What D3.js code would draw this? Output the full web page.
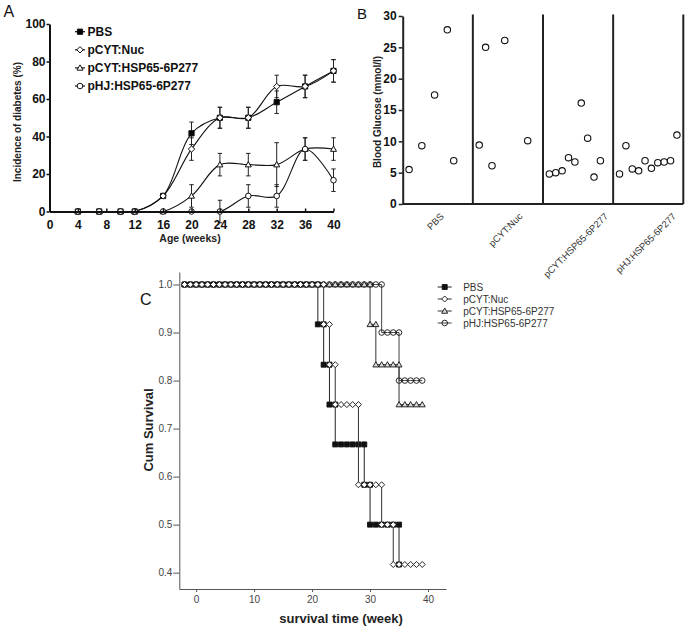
<!DOCTYPE html>
<html>
<head>
<meta charset="utf-8">
<script src="https://cdn.jsdelivr.net/npm/d3@7"></script>
<style>
  body { margin: 0; background: #fff; }
  svg { font-family: "Liberation Sans", Arial, sans-serif; }
</style>
</head>
<body>
<script>
// ---- Panel A: incidence of diabetes (%) ----
var ageWeeks = [4, 7, 10, 12, 16, 20, 24, 28, 32, 36, 40];
var ageTicks = [0, 4, 8, 12, 16, 20, 24, 28, 32, 36, 40];
var incTicks = [0, 20, 40, 60, 80, 100];
var incPBS = [0, 0, 0, 0, 8.3, 41.7, 50, 50, 58.3, 66.7, 75];
var incNuc = [0, 0, 0, 0, 8.3, 33.3, 50, 50, 66.7, 66.7, 75];
var incHSP = [0, 0, 0, 0, 0, 8.3, 25, 25, 25, 33.3, 33.3];
var incHJ  = [0, 0, 0, 0, 0, 0, 0, 8.3, 8.3, 33.3, 16.7];
var errPBS = [0, 0, 0, 0, 0, 6, 5.6, 5.6, 6, 6, 6];
var errNuc = [0, 0, 0, 0, 0, 6, 5.6, 5.6, 6, 6, 6];
var errHSP = [0, 0, 0, 0, 0, 6, 6, 6, 11.7, 6, 6];
var errHJ  = [0, 0, 0, 0, 0, 0, 6, 6, 6, 6, 6];

// ---- Panel B: blood glucose (mmol/l) ----
var groups = ['PBS', 'pCYT:Nuc', 'pCYT:HSP65-6P277', 'pHJ:HSP65-6P277'];
var glucoseTicks = [0, 5, 10, 15, 20, 25, 30];
var gluPBS = [5.5, 9.3, 17.4, 27.8, 6.9];
var gluNuc = [9.4, 25.0, 6.1, 26.1, 10.1];
var gluHSP = [4.8, 5.0, 5.3, 7.4, 6.7, 16.1, 10.5, 4.3, 6.9];
var gluHJ  = [4.8, 9.3, 5.6, 5.3, 6.9, 5.7, 6.6, 6.7, 6.9, 11.0];
var slotPBS = [1, 3, 5, 7, 8];
var slotNuc = [1, 2, 3, 5, 8.6];
var slotHSP = [1, 2, 3, 4, 5, 6, 7, 8, 9];
var slotHJ  = [1, 2, 3, 4, 5, 6, 7, 8, 9, 10];

// ---- Panel C: Kaplan-Meier, one value per week starting at week -2 ----
var survStart = -2;
var survTicksX = [0, 10, 20, 30, 40];
var survTicksY = [0.4, 0.5, 0.6, 0.7, 0.8, 0.9, 1.0];
var survPBS = [1,1,1,1,1,1,1,1,1,1,1,1,1,1,1,1,1,1,1,1,1,1,1,
  0.917, 0.833, 0.75, 0.667, 0.667, 0.667, 0.667, 0.667, 0.583,
  0.5, 0.5, 0.5, 0.5, 0.5, 0.417];
var survNuc = [1,1,1,1,1,1,1,1,1,1,1,1,1,1,1,1,1,1,1,1,1,1,1,1,
  0.917, 0.833, 0.75, 0.75, 0.75, 0.75, 0.583, 0.583, 0.583, 0.583,
  0.5, 0.5, 0.417, 0.417, 0.417, 0.417, 0.417, 0.417];
var survHSP = [1,1,1,1,1,1,1,1,1,1,1,1,1,1,1,1,1,1,1,1,1,1,1,1,1,1,1,1,1,1,1,1,
  0.917, 0.833, 0.833, 0.833, 0.833, 0.75, 0.75, 0.75, 0.75, 0.75];
var survHJ = [1,1,1,1,1,1,1,1,1,1,1,1,1,1,1,1,1,1,1,1,1,1,1,1,1,1,1,1,1,1,1,1,1,1,
  0.9, 0.9, 0.9, 0.8, 0.8, 0.8, 0.8, 0.8];

var svg = d3.select('body').append('svg').attr('width', 686).attr('height', 629);

function shape(type, s) {
  if (type === 'square') return 'M' + (-s) + ',' + (-s) + 'h' + 2 * s + 'v' + 2 * s + 'h' + (-2 * s) + 'Z';
  if (type === 'diamond') return 'M0,' + (-s) + 'L' + s + ',0L0,' + s + 'L' + (-s) + ',0Z';
  if (type === 'triangle') return 'M0,' + (-s) + 'L' + s + ',' + (s * 0.75) + 'L' + (-s) + ',' + (s * 0.75) + 'Z';
  return d3.symbol(d3.symbolCircle, Math.PI * s * s)();
}

// ================= Panel A =================
var xA = d3.scaleLinear().domain([0, 40]).range([49.5, 333.5]);
var yA = d3.scaleLinear().domain([0, 100]).range([211.5, 24]);
var gA = svg.append('g');

var seriesA = [
  {name: 'PBS', v: incPBS, e: errPBS, type: 'square', fill: '#000', s: 2.6},
  {name: 'pCYT:Nuc', v: incNuc, e: errNuc, type: 'diamond', fill: '#fff', s: 3.2},
  {name: 'pCYT:HSP65-6P277', v: incHSP, e: errHSP, type: 'triangle', fill: '#fff', s: 3},
  {name: 'pHJ:HSP65-6P277', v: incHJ, e: errHJ, type: 'circle', fill: '#fff', s: 2.8}
];

var lineA = d3.line().x(function(d) { return xA(d[0]); }).y(function(d) { return yA(d[1]); })
  .curve(d3.curveCatmullRom);

seriesA.forEach(function(sr) {
  var pts = ageWeeks.map(function(w, i) { return [w, sr.v[i], sr.e[i]]; });
  gA.append('path').attr('d', lineA(pts)).attr('fill', 'none').attr('stroke', '#111').attr('stroke-width', 1.1);
  pts.filter(function(p) { return p[2] > 0; }).forEach(function(p) {
    var x = xA(p[0]), y1 = yA(p[1] + p[2]), y2 = yA(p[1] - p[2]);
    var eb = gA.append('g').attr('stroke', '#222').attr('stroke-width', 1);
    eb.append('line').attr('x1', x).attr('x2', x).attr('y1', y1).attr('y2', y2);
    eb.append('line').attr('x1', x - 2.2).attr('x2', x + 2.2).attr('y1', y1).attr('y2', y1);
    eb.append('line').attr('x1', x - 2.2).attr('x2', x + 2.2).attr('y1', y2).attr('y2', y2);
  });
});
seriesA.forEach(function(sr) {
  gA.selectAll(null).data(ageWeeks.map(function(w, i) { return [w, sr.v[i]]; })).enter()
    .append('path')
    .attr('transform', function(d) { return 'translate(' + xA(d[0]) + ',' + yA(d[1]) + ')'; })
    .attr('d', shape(sr.type, sr.s))
    .attr('fill', sr.fill).attr('stroke', '#111').attr('stroke-width', 1);
});

var axA = gA.append('g').attr('transform', 'translate(0,211.5)')
  .call(d3.axisBottom(xA).tickValues(ageTicks).tickSize(-3).tickSizeOuter(0).tickPadding(9));
var ayA = gA.append('g').attr('transform', 'translate(49.5,0)')
  .call(d3.axisLeft(yA).tickValues(incTicks).tickSize(3).tickSizeOuter(0).tickPadding(1));
[axA, ayA].forEach(function(a) {
  a.select('.domain').attr('stroke', '#111').attr('stroke-width', 2);
  a.selectAll('.tick line').attr('stroke', '#111').attr('stroke-width', 1.5);
  a.selectAll('text').attr('font-size', 12).attr('font-weight', 'bold').attr('fill', '#111')
    .attr('font-family', '"Liberation Sans", Arial, sans-serif');
});

gA.append('text').attr('x', 3.5).attr('y', 16.5).attr('font-size', 16).attr('fill', '#111').text('A');
gA.append('text').attr('transform', 'translate(20.5,122) rotate(-90)').attr('text-anchor', 'middle')
  .attr('font-size', 10).attr('font-weight', 'bold').attr('fill', '#222').text('Incidence of diabetes (%)');
gA.append('text').attr('x', 190).attr('y', 242).attr('text-anchor', 'middle')
  .attr('font-size', 10.5).attr('font-weight', 'bold').attr('fill', '#222').text('Age (weeks)');

var legA = gA.selectAll('.legA').data(seriesA).enter().append('g')
  .attr('transform', function(d, i) { return 'translate(75,' + (31.7 + i * 18.1) + ')'; });
legA.append('line').attr('x1', 0).attr('x2', 10).attr('stroke', '#111').attr('stroke-width', 1.2);
legA.append('path').attr('transform', 'translate(5,0)')
  .attr('d', function(d) { return shape(d.type, d.s); })
  .attr('fill', function(d) { return d.fill; }).attr('stroke', '#111');
legA.append('text').attr('x', 12.5).attr('dy', '0.36em').attr('font-size', 12).attr('font-weight', 'bold')
  .attr('fill', '#111').text(function(d) { return d.name; });

// ================= Panel B =================
var xB = d3.scaleBand().domain(groups).range([402.7, 683.3]).padding(0);
var slotB = d3.scaleLinear().domain([0, 11]).range([0, xB.bandwidth()]);
var yB = d3.scaleLinear().domain([0, 30]).range([204, 16]);
var gB = svg.append('g');

var gluByGroup = [[gluPBS, slotPBS], [gluNuc, slotNuc], [gluHSP, slotHSP], [gluHJ, slotHJ]];

gB.selectAll('.div').data(groups).enter().append('line')
  .attr('x1', function(d) { return xB(d) + xB.bandwidth(); })
  .attr('x2', function(d) { return xB(d) + xB.bandwidth(); })
  .attr('y1', 14.5).attr('y2', 204).attr('stroke', '#222').attr('stroke-width', 2);
gB.append('line').attr('x1', 402.7).attr('x2', 683.3).attr('y1', 204).attr('y2', 204)
  .attr('stroke', '#222').attr('stroke-width', 2);
var ayB = gB.append('g').attr('transform', 'translate(402.7,0)')
  .call(d3.axisLeft(yB).tickValues(glucoseTicks).tickSize(4).tickSizeOuter(0).tickPadding(2));
ayB.select('.domain').attr('stroke', '#222').attr('stroke-width', 2);
ayB.selectAll('.tick line').attr('stroke', '#222').attr('stroke-width', 1.5);
ayB.selectAll('text').attr('font-size', 12).attr('font-weight', 'bold').attr('fill', '#111')
  .attr('font-family', '"Liberation Sans", Arial, sans-serif');

groups.forEach(function(g, gi) {
  var vals = gluByGroup[gi][0], slots = gluByGroup[gi][1];
  gB.selectAll(null).data(vals).enter().append('circle')
    .attr('cx', function(d, i) { return xB(g) + slotB(slots[i]); })
    .attr('cy', function(d) { return yB(d); })
    .attr('r', 3.2).attr('fill', '#fff').attr('stroke', '#111').attr('stroke-width', 1.1);
});

gB.selectAll('.xl').data(groups).enter().append('text')
  .attr('font-size', 9.5).attr('fill', '#333').attr('text-anchor', 'middle').text(function(d) { return d; })
  .each(function(d) {
    var L = this.getComputedTextLength();
    var cx = xB(d) + xB.bandwidth() / 2;
    d3.select(this).attr('transform', 'translate(' + cx + ',' + (214 + L * 0.3536 + 3) + ') rotate(-45)');
  });

gB.append('text').attr('x', 357).attr('y', 18.5).attr('font-size', 15).attr('fill', '#111').text('B');
gB.append('text').attr('transform', 'translate(380.5,112) rotate(-90)').attr('text-anchor', 'middle')
  .attr('font-size', 10).attr('font-weight', 'bold').attr('fill', '#222').text('Blood Glucose (mmol/l)');

// ================= Panel C =================
var xC = d3.scaleLinear().domain([-2.9, 43.1]).range([179.3, 446]);
var yC = d3.scaleLinear().domain([0.366, 1.026]).range([589, 272]);
var gC = svg.append('g');

var seriesC = [
  {name: 'PBS', v: survPBS, type: 'square', fill: '#111', s: 2.5, stroke: '#222'},
  {name: 'pCYT:Nuc', v: survNuc, type: 'diamond', fill: '#fff', s: 3, stroke: '#333'},
  {name: 'pCYT:HSP65-6P277', v: survHSP, type: 'triangle', fill: '#ddd', s: 3, stroke: '#333'},
  {name: 'pHJ:HSP65-6P277', v: survHJ, type: 'circle', fill: 'none', s: 2.8, stroke: '#444'}
];
var lineC = d3.line().x(function(d) { return xC(d[0]); }).y(function(d) { return yC(d[1]); })
  .curve(d3.curveStepAfter);

var drawOrder = [0, 3, 2, 1];
drawOrder.forEach(function(k) {
  var sr = seriesC[k];
  var pts = sr.v.map(function(v, i) { return [survStart + i, v]; });
  gC.append('path').attr('d', lineC(pts)).attr('fill', 'none').attr('stroke', sr.stroke).attr('stroke-width', 1);
  var marks = [];
  pts.forEach(function(p, i) {
    if (i > 0 && p[1] < pts[i - 1][1]) marks.push([p[0], pts[i - 1][1]]);
    marks.push(p);
  });
  gC.selectAll(null).data(marks).enter().append('path')
    .attr('transform', function(d) { return 'translate(' + xC(d[0]) + ',' + yC(d[1]) + ')'; })
    .attr('d', shape(sr.type, sr.s))
    .attr('fill', sr.fill).attr('stroke', '#111').attr('stroke-width', 0.9);
});

var axC = gC.append('g').attr('transform', 'translate(0,589)')
  .call(d3.axisBottom(xC).tickValues(survTicksX).tickSize(3).tickSizeOuter(0).tickPadding(4));
var ayC = gC.append('g').attr('transform', 'translate(179.3,0)')
  .call(d3.axisLeft(yC).tickValues(survTicksY).tickFormat(d3.format('.1f')).tickSize(6).tickSizeOuter(0).tickPadding(1));
[axC, ayC].forEach(function(a) {
  a.select('.domain').attr('stroke', '#555').attr('stroke-width', 1);
  a.selectAll('.tick line').attr('stroke', '#555');
  a.selectAll('text').attr('font-size', 10).attr('fill', '#444')
    .attr('font-family', '"Liberation Sans", Arial, sans-serif');
});

gC.append('text').attr('x', 140).attr('y', 305).attr('font-size', 16).attr('fill', '#111').text('C');
gC.append('text').attr('transform', 'translate(153,430) rotate(-90)').attr('text-anchor', 'middle')
  .attr('font-size', 13).attr('font-weight', 'bold').attr('fill', '#222').text('Cum Survival');
gC.append('text').attr('x', 341).attr('y', 623).attr('text-anchor', 'middle')
  .attr('font-size', 13).attr('font-weight', 'bold').attr('fill', '#222').text('survival time (week)');

var legC = gC.selectAll('.legC').data(seriesC).enter().append('g')
  .attr('transform', function(d, i) { return 'translate(437.7,' + (287 + i * 12) + ')'; });
legC.append('line').attr('x1', 0).attr('x2', 14).attr('stroke', function(d) { return d.stroke; });
legC.append('path').attr('transform', 'translate(7,0)')
  .attr('d', function(d) { return shape(d.type, d.s); })
  .attr('fill', function(d) { return d.fill; }).attr('stroke', '#111').attr('stroke-width', 0.9);
legC.append('text').attr('x', 25.5).attr('dy', '0.35em').attr('font-size', 10).attr('fill', '#333')
  .text(function(d) { return d.name; });
</script>
</body>
</html>
